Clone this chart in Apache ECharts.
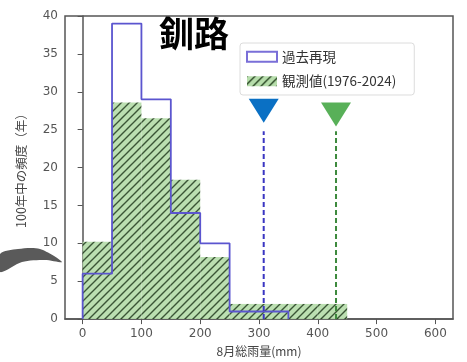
<!DOCTYPE html>
<html>
<head>
<meta charset="utf-8">
<script src="https://cdn.jsdelivr.net/npm/echarts@6/dist/echarts.min.js"></script>
<style>html,body{margin:0;padding:0;background:#fff;}#c{width:467px;height:362px;}</style>
</head>
<body>
<div id="c"></div>
<script>
// ---- data ----
const binEdges = [0, 50, 100, 150, 200, 250, 300, 350, 400, 450, 500, 550, 600];
const pastFreq = [6, 39, 29, 14, 10, 1, 1, 0, 0, 0, 0, 0];
const obsFreq = [10.2, 28.6, 26.5, 18.4, 8.2, 2.0, 2.0, 2.0, 2.0, 0, 0, 0];
const xTicks = [0, 100, 200, 300, 400, 500, 600];
const yTicks = [0, 5, 10, 15, 20, 25, 30, 35, 40];
const seriesNames = ['過去再現', '観測値(1976-2024)'];
const markerX = [308, 431];
const markerLineTop = [24.8, 24.8];
const markerY = [27.5, 27.0];
const titleText = '釧路';
const xName = '8月総雨量(mm)';
const yName = '100年中の頻度（年）';

// ---- styles ----
const pastColor = '#5b55cf';
const markerLineColors = ['#3a36c2', '#3d8a3d'];
const markerColors = ['#0a70c4', '#58b058'];
const cjk = '"Noto Sans CJK JP", "Noto Sans", sans-serif';
const numFont = '"DejaVu Sans", sans-serif';

function makeHatch() {
  const s = 8;
  const c = document.createElement('canvas');
  c.width = s; c.height = s;
  const g = c.getContext('2d');
  g.fillStyle = '#b6ddab';
  g.fillRect(0, 0, s, s);
  g.strokeStyle = '#2a4725';
  g.lineWidth = 1.4;
  g.beginPath();
  g.moveTo(0, s); g.lineTo(s, 0);
  g.moveTo(-1, 1); g.lineTo(1, -1);
  g.moveTo(s - 1, s + 1); g.lineTo(s + 1, s - 1);
  g.stroke();
  return { image: c, repeat: 'repeat' };
}
const hatch = makeHatch();

// step outline built from bins (up to the last non-empty bin)
let lastBin = pastFreq.length - 1;
while (lastBin > 0 && pastFreq[lastBin] === 0) lastBin--;
const stepPts = [[binEdges[0], 0]];
for (let i = 0; i <= lastBin; i++) {
  stepPts.push([binEdges[i], pastFreq[i]]);
  stepPts.push([binEdges[i + 1], pastFreq[i]]);
}
stepPts.push([binEdges[lastBin + 1], 0]);

const obsBars = obsFreq.map((v, i) => [binEdges[i], binEdges[i + 1], v]);

const chart = echarts.init(document.getElementById('c'), null, { renderer: 'canvas' });

const series = [
  {
    name: seriesNames[1],
    type: 'custom',
    coordinateSystem: 'cartesian2d',
    itemStyle: { color: hatch },
    encode: { x: [0, 1], y: 2 },
    data: obsBars,
    z: 2,
    renderItem: function (params, api) {
      const p0 = api.coord([api.value(0), api.value(2)]);
      const p1 = api.coord([api.value(1), 0]);
      return {
        type: 'rect',
        shape: { x: p0[0], y: p0[1], width: p1[0] - p0[0], height: p1[1] - p0[1] },
        style: { fill: hatch, opacity: 0.92 }
      };
    }
  },
  {
    name: seriesNames[0],
    type: 'line',
    data: stepPts,
    symbol: 'none',
    lineStyle: { color: pastColor, width: 1.8 },
    itemStyle: { color: '#fff', borderColor: pastColor },
    z: 3
  }
];

markerX.forEach((x, i) => {
  series.push({
    type: 'line',
    data: [[x, 0], [x, markerLineTop[i]]],
    symbol: 'none',
    lineStyle: { color: markerLineColors[i], width: 2, type: [5, 3] },
    z: 4,
    silent: true
  });
  series.push({
    type: 'scatter',
    data: [[x, markerY[i]]],
    symbol: 'triangle',
    symbolRotate: 180,
    symbolSize: [30, 24],
    itemStyle: { color: markerColors[i], opacity: 1 },
    z: 5,
    silent: true
  });
});

chart.setOption({
  animation: false,
  backgroundColor: '#fff',
  title: {
    text: titleText,
    left: 154,
    top: 11,
    textStyle: { fontSize: 35, fontWeight: 'bold', color: '#000', fontFamily: cjk }
  },
  legend: {
    orient: 'vertical',
    left: 240,
    top: 43,
    itemWidth: 30,
    itemHeight: 10,
    itemGap: 11,
    padding: [7, 18, 7, 6],
    backgroundColor: '#fff',
    borderColor: '#dcdcdc',
    borderWidth: 1,
    borderRadius: 3,
    textStyle: { fontSize: 13.5, color: '#333', fontFamily: cjk },
    data: [
      { name: seriesNames[0], icon: 'rect', itemStyle: { color: '#fff', borderColor: '#7a6fd8', borderWidth: 2 } },
      { name: seriesNames[1], icon: 'rect', itemStyle: { color: hatch, borderWidth: 0 } }
    ]
  },
  grid: {
    left: 65, right: 14, top: 16, bottom: 40,
    show: true, borderColor: '#555', borderWidth: 1.5, backgroundColor: '#fff'
  },
  xAxis: {
    type: 'value',
    min: -30,
    max: 630,
    name: xName,
    nameLocation: 'middle',
    nameGap: 25,
    nameTextStyle: { fontSize: 12, color: '#444', fontFamily: cjk },
    splitLine: { show: false },
    axisLine: { show: true, onZero: false, lineStyle: { color: '#555', width: 1.5 } },
    axisTick: { show: true, length: 5, lineStyle: { color: '#555' }, customValues: xTicks },
    axisLabel: { color: '#555', fontSize: 12, margin: 9, fontFamily: numFont, customValues: xTicks }
  },
  yAxis: {
    type: 'value',
    min: 0,
    max: 40,
    interval: 5,
    name: yName,
    nameLocation: 'middle',
    nameGap: 37,
    nameTextStyle: { fontSize: 12.5, color: '#444', fontFamily: cjk },
    splitLine: { show: false },
    axisLine: { show: true, lineStyle: { color: '#555', width: 1.5 } },
    axisTick: { show: true, length: 5, lineStyle: { color: '#555' }, customValues: yTicks },
    axisLabel: { color: '#555', fontSize: 12, margin: 7, fontFamily: numFont, customValues: yTicks }
  },
  graphic: [
    {
      type: 'polygon',
      shape: { points: [[0, 254], [18, 249], [40, 249], [62, 262], [45, 260], [22, 262], [0, 272]], smooth: 0.3 },
      style: { fill: '#5a5a5a' },
      z: 0
    }
  ],
  series: series
});
</script>
</body>
</html>
